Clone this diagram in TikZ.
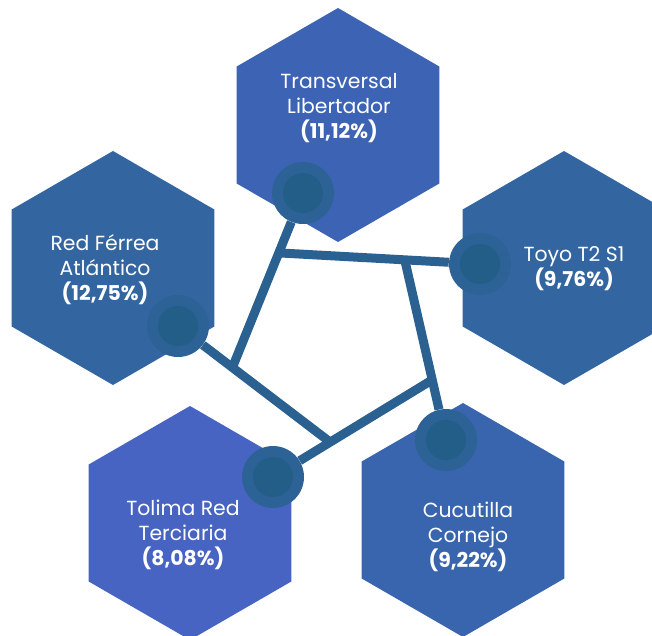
\documentclass[tikz,border=0pt]{standalone}
\usepackage{fontspec}
\setmainfont{Poppins}
\usetikzlibrary{shapes.geometric}
\definecolor{hexTop}{HTML}{3D63B4}
\definecolor{hexSide}{HTML}{3366A1}
\definecolor{hexLeftLow}{HTML}{4764C3}
\definecolor{hexRightLow}{HTML}{3865AE}
\definecolor{linkCol}{HTML}{2A6191}
\definecolor{hubOut}{HTML}{2C6296}
\definecolor{hubIn}{HTML}{235E88}
\tikzset{
x=0.75pt, y=-0.75pt, % one unit is one pixel of the reference
hexa/.style={regular polygon, regular polygon sides=6, shape border rotate=30,
  minimum size=175.5pt, inner sep=0pt}, % pointy-top hexagon
hub/.style={circle, fill=hubOut, minimum size=46.5pt, inner sep=0pt,
  path picture={\fill[hubIn] (path picture bounding box.center) circle (15pt);}},
link/.style={draw=linkCol, line width=6.75pt},
lbl/.style={text=white, align=center, font=\fontsize{15.3}{18.75}\selectfont},
}

\begin{document}
\begin{tikzpicture}
  \clip (0,0) rectangle (652,635);

  % hexagons
  \node[hexa, fill=hexTop] (transversal) at (338,125) {};
  \node[hexa, fill=hexSide] (ferrea) at (113,268) {};
  \node[hexa, fill=hexSide] (toyo) at (564,268) {};
  \node[hexa, fill=hexLeftLow] (tolima) at (190,523) {};
  \node[hexa, fill=hexRightLow] (cucutilla) at (463,520) {};

  % labels
  \node[lbl] (tTransversal) at (339,108) {Transversal\\Libertador\\\textbf{(11,12\%)}};
  \node[lbl] (tFerrea) at (105,270) {Red Férrea\\Atlántico\\\textbf{(12,75\%)}};
  \node[lbl] (tToyo) at (574,269) {Toyo T2 S1\\\textbf{(9,76\%)}};
  \node[lbl] (tTolima) at (183,535) {Tolima Red\\Terciaria\\\textbf{(8,08\%)}};
  \node[lbl] (tCucutilla) at (468,537) {Cucutilla\\Cornejo\\\textbf{(9,22\%)}};

  % hubs
  \node[hub] (h1) at (303,193) {};
  \node[hub] (h2) at (480,264) {};
  \node[hub] (h3) at (446,440) {};
  \node[hub] (h4) at (273,477) {};
  \node[hub] (h5) at (178,326) {};

  % pentagon corners
  \coordinate (p1) at (281,253);
  \coordinate (p2) at (405,261);
  \coordinate (p3) at (432,380);
  \coordinate (p4) at (330,442);
  \coordinate (p5) at (233,366);

  \draw[link] (h1) -- (p5);
  \draw[link] (h2) -- (p1);
  \draw[link] (h3) -- (p2);
  \draw[link] (h4) -- (p3);
  \draw[link] (h5) -- (p4);
\end{tikzpicture}
\end{document}
